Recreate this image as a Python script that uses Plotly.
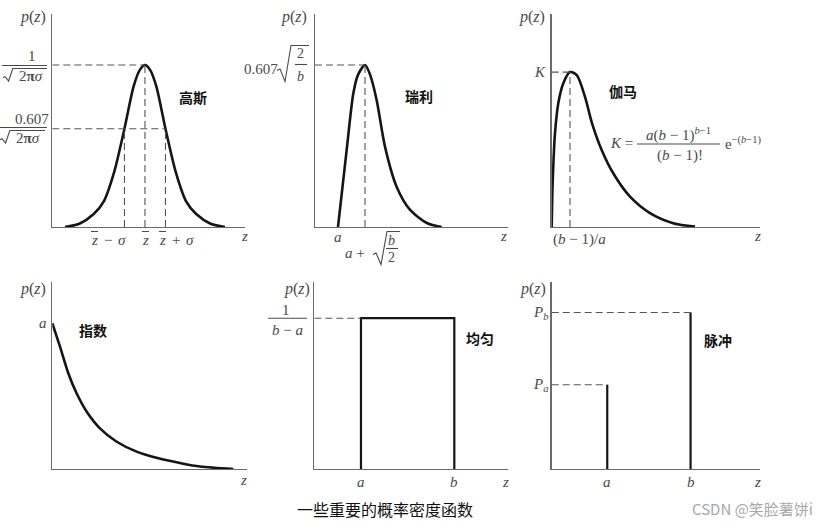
import plotly.graph_objects as go

# ---------------- data ----------------
# Gaussian: z in units of sigma around the mean, p relative to the peak 1/(sqrt(2pi)sigma)
gauss_z = [-3.9, -3.2, -2.5, -2.0, -1.5, -1.0, -0.55, -0.25, 0.0, 0.25, 0.55, 1.0, 1.5, 2.0, 2.5, 3.2, 3.9]
gauss_p = [0.0, 0.02, 0.08, 0.16, 0.34, 0.607, 0.87, 0.97, 1.0, 0.97, 0.87, 0.607, 0.34, 0.16, 0.08, 0.02, 0.0]
gauss_mean = 0.0
gauss_sigma = 1.0
gauss_level = 0.607

# Rayleigh (a = 1, b = 2)
rayleigh_z = [1.0, 1.32, 1.57, 1.74, 2.0, 2.19, 2.43, 2.74, 3.17, 3.67, 4.29, 4.84]
rayleigh_p = [0.0, 0.288, 0.502, 0.57, 0.607, 0.57, 0.476, 0.301, 0.151, 0.064, 0.015, 0.0]
rayleigh_a = 1.0
rayleigh_mode = 2.0
rayleigh_peak = 0.607

# Gamma (mode (b-1)/a = 1, peak K)
gamma_z = [0.0, 0.04, 0.1, 0.18, 0.36, 0.63, 1.0, 1.37, 1.82, 2.2, 2.73, 3.37, 4.28, 5.37, 6.64, 7.83]
gamma_p = [0.0, 0.088, 0.159, 0.223, 0.294, 0.341, 0.368, 0.361, 0.309, 0.247, 0.183, 0.127, 0.072, 0.033, 0.009, 0.001]
gamma_mode = 1.0
gamma_K = 0.368

# Exponential (p(0) = a = 1)
expo_z = [0.0, 0.275, 0.571, 0.871, 1.229, 1.70, 2.30, 3.01, 3.79, 4.56, 5.27, 6.46]
expo_p = [1.0, 0.839, 0.657, 0.518, 0.393, 0.279, 0.187, 0.119, 0.073, 0.041, 0.017, 0.0]
expo_a = 1.0

# Uniform
uniform_a = 1.0
uniform_b = 3.0
uniform_h = 0.5

# Impulse
impulse_a = 2.0
impulse_b = 5.0
impulse_Pa = 0.35
impulse_Pb = 0.65

# ---------------- styling / layout helpers ----------------
W, H = 830, 527
SERIF = "Liberation Serif"
CJK = "Noto Sans CJK SC"
MATH = "#4a4a4a"
CURVE = "#151515"
AXIS = "#6a6a6a"
DASH = "#555555"


def PX(x):
    return x / W


def PY(y):
    return 1 - y / H


panels = [
    dict(x=(52.3, 245), y=(227, 14), xr=[-4.52, 4.88], yr=[0, 1.315]),
    dict(x=(315, 508), y=(227, 14), xr=[0.148, 7.296], yr=[0, 0.798]),
    dict(x=(551.7, 760), y=(227, 14), xr=[0, 11.38], yr=[0, 0.506]),
    dict(x=(52.3, 246.7), y=(469, 282), xr=[0, 6.94], yr=[0, 1.283]),
    dict(x=(314.3, 508), y=(469, 282), xr=[0, 4.15], yr=[0, 0.62]),
    dict(x=(551.7, 760), y=(469, 282), xr=[0, 7.5], yr=[0, 0.777]),
]


def aid(n):
    return "" if n == 1 else str(n)


fig = go.Figure()
layout = dict(
    width=W, height=H, margin=dict(l=0, r=0, t=0, b=0),
    paper_bgcolor="white", plot_bgcolor="white", showlegend=False,
)
for i, p in enumerate(panels, start=1):
    common = dict(showgrid=False, zeroline=False, showticklabels=False, ticks="",
                  showline=True, linecolor=AXIS, linewidth=1.4, fixedrange=True)
    layout["xaxis" + aid(i)] = dict(domain=[PX(p["x"][0]), PX(p["x"][1])], range=p["xr"],
                                    anchor="y" + aid(i), **common)
    layout["yaxis" + aid(i)] = dict(domain=[PY(p["y"][0]), PY(p["y"][1])], range=p["yr"],
                                    anchor="x" + aid(i), **common)
fig.update_layout(**layout)


def curve(n, xs, ys, shape="spline", width=2.6):
    line = dict(color=CURVE, width=width, shape=shape)
    if shape == "spline":
        line["smoothing"] = 0.8
    fig.add_trace(go.Scatter(x=xs, y=ys, xaxis="x" + aid(n), yaxis="y" + aid(n),
                             mode="lines", line=line, hoverinfo="skip"))


shapes = []


def dline(n, x0, y0, x1, y1):
    shapes.append(dict(type="line", xref="x" + aid(n), yref="y" + aid(n),
                       x0=x0, y0=y0, x1=x1, y1=y1,
                       line=dict(color=DASH, width=1.1, dash="7px,4px")))


def pline(x0, y0, x1, y1, w=1.1, color=MATH):
    shapes.append(dict(type="line", xref="paper", yref="paper",
                       x0=PX(x0), y0=PY(y0), x1=PX(x1), y1=PY(y1),
                       line=dict(color=color, width=w)))


def radical(x0, ytop, ybot, xend, k=1.0):
    ymid = ybot - (ybot - ytop) * 0.35
    pts = [(x0, ymid + 1.5 * k), (x0 + 3 * k, ymid), (x0 + 8 * k, ybot), (x0 + 14 * k, ytop), (xend, ytop)]
    path = "M " + " L ".join(f"{PX(a):.5f},{PY(b):.5f}" for a, b in pts)
    shapes.append(dict(type="path", xref="paper", yref="paper", path=path,
                       line=dict(color=MATH, width=1.1)))


annotations = []


def T(x, y, text, size=16, color=MATH, family=SERIF, xanchor="center", xref="paper", yref="paper"):
    annotations.append(dict(
        x=PX(x) if xref == "paper" else x, y=PY(y) if yref == "paper" else y,
        xref=xref, yref=yref, text=text, showarrow=False,
        xanchor=xanchor, yanchor="middle",
        font=dict(family=family, size=size, color=color)))


def CN(x, y, text, size=14):
    T(x, y, "<b>" + text + "</b>", size=size, color="#111111", family=CJK)


def zbar(x, y):
    # italic z with an overbar (mean)
    T(x, y, "<i>z</i>", 15)
    pline(x - 3, y - 8.5, x + 4, y - 8.5, w=1.0)


PZ = "<i>p</i>(<i>z</i>)"

# ---------------- panel 1: Gaussian ----------------
curve(1, gauss_z, gauss_p)
xl = panels[0]["xr"][0]
dline(1, xl, 1.0, gauss_mean, 1.0)
dline(1, xl, gauss_level, gauss_mean + gauss_sigma, gauss_level)
dline(1, gauss_mean, 0, gauss_mean, 1.0)
dline(1, gauss_mean - gauss_sigma, 0, gauss_mean - gauss_sigma, gauss_level)
dline(1, gauss_mean + gauss_sigma, 0, gauss_mean + gauss_sigma, gauss_level)
T(32.5, 17, PZ)
T(31.5, 56, "1", 15)
pline(2, 65.5, 47, 65.5)
radical(3, 68.5, 81, 47, k=0.7)
T(31, 75.5, "2<b>π</b><i>σ</i>", 15)
T(32, 119, "0.607", 15)
pline(0, 127.5, 47, 127.5)
radical(0, 130.5, 143, 45, k=0.7)
T(28, 137.5, "2<b>π</b><i>σ</i>", 15)
CN(193, 97, "高斯")
zbar(94, 240)
T(108, 240, "−", 15)
T(122, 240, "<i>σ</i>", 15)
zbar(145, 240)
zbar(162, 240)
T(176, 240, "+", 15)
T(190, 240, "<i>σ</i>", 15)
T(244, 236, "<i>z</i>", 15)

# ---------------- panel 2: Rayleigh ----------------
curve(2, rayleigh_z, rayleigh_p)
xl = panels[1]["xr"][0]
dline(2, xl, rayleigh_peak, rayleigh_mode, rayleigh_peak)
dline(2, rayleigh_mode, 0, rayleigh_mode, rayleigh_peak)
T(294, 17, PZ)
T(261, 68.5, "0.607", 15)
radical(277, 45.5, 81.5, 309)
T(300.5, 54, "2", 14)
pline(295, 64.5, 307, 64.5)
T(300.5, 76, "<i>b</i>", 14)
CN(419, 96, "瑞利")
T(rayleigh_a, 237, "<i>a</i>", 15, xref="x2")
T(367, 253, "<i>a</i> +", 15, xanchor="right")
radical(373, 231.5, 264.5, 400)
T(391.5, 241, "<i>b</i>", 14)
pline(386, 248.5, 398, 248.5)
T(391.5, 258, "2", 14)
T(503, 236, "<i>z</i>", 15)

# ---------------- panel 3: Gamma ----------------
curve(3, gamma_z, gamma_p)
dline(3, 0, gamma_K, gamma_mode, gamma_K)
dline(3, gamma_mode, 0, gamma_mode, gamma_K)
T(532, 17, PZ)
T(0, gamma_K, "<i>K</i>", 15, yref="y3")
annotations[-1]["x"] = PX(540)
CN(623, 91, "伽马")
T(635, 143.5, "<i>K</i> =", 15, xanchor="right")
T(678, 134, "<i>a</i>(<i>b</i> − 1)<sup><i>b</i>−1</sup>", 15)
pline(637, 144, 720, 144)
T(680, 155.5, "(<i>b</i> − 1)!", 15)
T(723, 143, "e<sup>−(<i>b</i>−1)</sup>", 15, xanchor="left")
T(579, 240, "(<i>b</i> − 1)/<i>a</i>", 15)
T(757, 236, "<i>z</i>", 15)

# ---------------- panel 4: Exponential ----------------
curve(4, expo_z, expo_p)
T(33, 289, PZ)
T(0, expo_a, "<i>a</i>", 15, yref="y4")
annotations[-1]["x"] = PX(42.5)
CN(93, 330, "指数")
T(243.5, 480, "<i>z</i>", 15)

# ---------------- panel 5: Uniform ----------------
curve(5, [uniform_a, uniform_a, uniform_b, uniform_b], [0, uniform_h, uniform_h, 0],
      shape="linear", width=2.2)
dline(5, 0, uniform_h, uniform_a, uniform_h)
T(296.5, 288.5, PZ)
T(286, 309.5, "1", 15)
pline(268, 318.3, 307, 318.3)
T(287, 330, "<i>b</i> − <i>a</i>", 15)
CN(480, 338, "均匀")
T(uniform_a, 482, "<i>a</i>", 15, xref="x5")
T(uniform_b, 482, "<i>b</i>", 15, xref="x5")
T(505, 482, "<i>z</i>", 15)

# ---------------- panel 6: Impulse ----------------
curve(6, [impulse_a, impulse_a, None, impulse_b, impulse_b],
      [0, impulse_Pa, None, 0, impulse_Pb], shape="linear", width=2.2)
dline(6, 0, impulse_Pa, impulse_a, impulse_Pa)
dline(6, 0, impulse_Pb, impulse_b, impulse_Pb)
T(533, 288.5, PZ)
T(0, impulse_Pb, "<i>P</i><sub><i>b</i></sub>", 15, yref="y6")
annotations[-1]["x"] = PX(540)
T(0, impulse_Pa, "<i>P</i><sub><i>a</i></sub>", 15, yref="y6")
annotations[-1]["x"] = PX(540)
CN(718, 340, "脉冲")
T(impulse_a, 482, "<i>a</i>", 15, xref="x6")
T(impulse_b, 482, "<i>b</i>", 15, xref="x6")
T(757, 482, "<i>z</i>", 15)

# ---------------- captions ----------------
T(385, 508.5, "一些重要的概率密度函数", 16, color="#111111", family=CJK)
T(815, 508.5, "CSDN @笑脸薯饼i", 15, color="#a8a8a8", family=CJK, xanchor="right")

fig.update_layout(shapes=shapes, annotations=annotations)
fig.write_html("out.html", config={"displayModeBar": False, "staticPlot": True},
               post_script="document.body.style.margin='0px';document.body.style.overflow='hidden';")
